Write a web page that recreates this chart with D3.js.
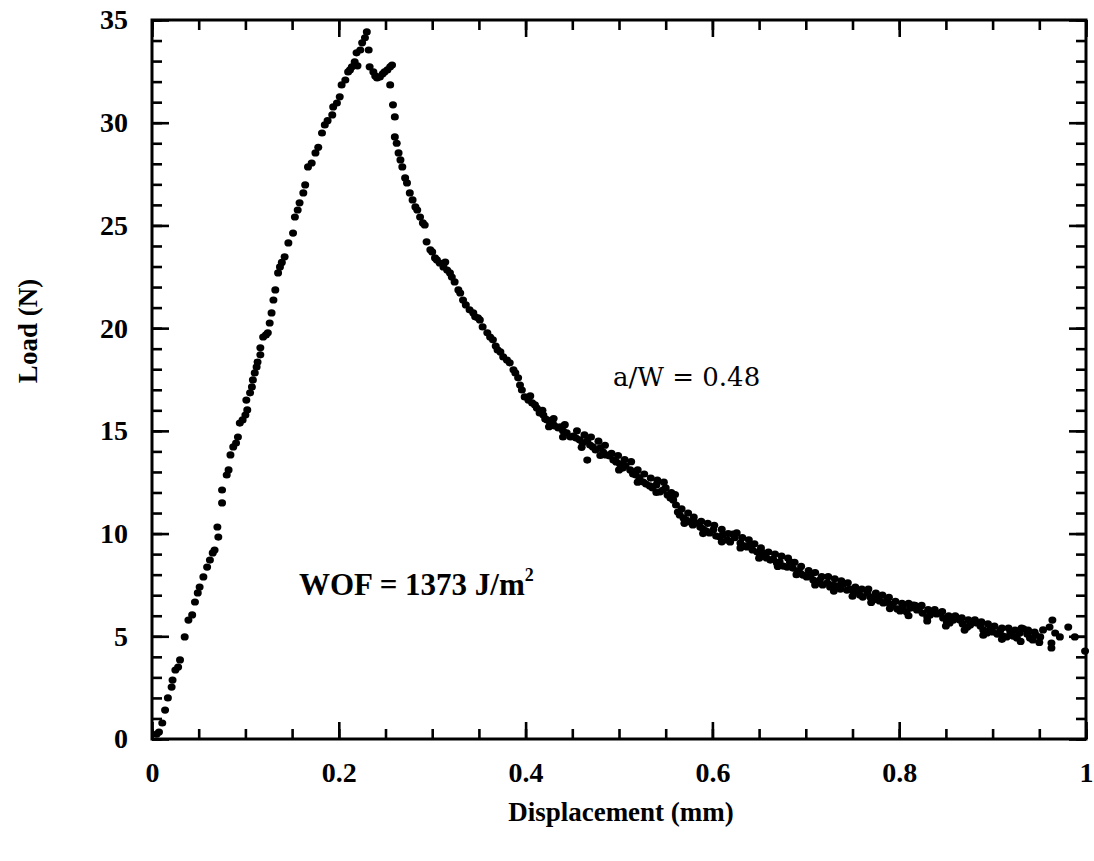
<!DOCTYPE html>
<html>
<head>
<meta charset="utf-8">
<script src="https://cdn.jsdelivr.net/npm/d3@7"></script>
<style>
html,body{margin:0;padding:0;background:#fff;}
svg{display:block;}
</style>
</head>
<body>
<svg id="chart" width="1094" height="861"></svg>
<script>
// ---- Data (displacement in mm, load in N) ----
const xTicks = [0, 0.2, 0.4, 0.6, 0.8, 1];
const xTickLabels = ["0", "0.2", "0.4", "0.6", "0.8", "1"];
const yTicks = [0, 5, 10, 15, 20, 25, 30, 35];
const yTickLabels = ["0", "5", "10", "15", "20", "25", "30", "35"];

const rising = [
[0.005,0.24],[0.0075,0.34],[0.011,0.78],[0.014,1.41],[0.017,2.0],[0.021,2.53],[0.022,2.87],[0.025,3.36],
[0.028,3.5],[0.030,3.85],[0.035,4.97],[0.039,5.79],[0.043,6.04],[0.046,6.67],[0.049,7.11],[0.051,7.40],
[0.055,7.89],[0.059,8.37],[0.062,8.71],[0.065,9.06],[0.067,9.20],[0.070,10.32],[0.071,9.83],[0.075,11.49],
[0.075,12.12],[0.080,12.85],[0.082,13.1],[0.084,13.83],[0.087,14.22],[0.090,14.41],[0.092,14.70],[0.094,15.38],
[0.097,15.53],[0.100,15.77],[0.102,16.02],[0.101,16.50],[0.105,16.85],[0.107,17.14],[0.108,17.48],[0.110,17.82],
[0.112,18.11],[0.113,18.35],[0.116,19.04],[0.116,18.7],[0.119,19.57],[0.122,19.67],[0.124,19.77],[0.126,20.25],
[0.128,20.74],[0.130,21.37],[0.132,21.86],[0.135,22.69],[0.137,22.98],[0.139,23.2],[0.142,23.47],[0.146,24.15],
[0.151,24.63],[0.153,25.41],[0.156,25.75],[0.158,26.10],[0.162,26.58],[0.164,26.97],[0.167,27.85],[0.171,28.04],
[0.175,28.53],[0.178,28.8],[0.182,29.50],[0.185,29.89],[0.188,30.1],[0.193,30.38],[0.194,30.77],[0.198,30.96],
[0.201,31.26],[0.203,31.84],[0.207,32.08],[0.210,32.47],[0.212,32.57],[0.214,32.72],[0.217,32.96],[0.219,33.40],
[0.220,32.77],[0.223,33.54],[0.225,33.89],[0.228,34.13],[0.230,34.42]
];

const peakDip = [
[0.232,33.54],[0.233,32.72],[0.237,32.47],[0.239,32.28],[0.241,32.18],[0.244,32.23],[0.247,32.38],[0.249,32.47],
[0.252,32.57],[0.255,32.72],[0.257,32.81],[0.255,31.84]
];

const softening = [
[0.258,30.87],[0.260,30.28],[0.260,29.31],[0.262,29.0],[0.264,28.53],[0.266,28.19],[0.268,27.85],[0.271,27.31],
[0.273,27.07],[0.276,26.58],[0.279,26.24],[0.282,25.90],[0.284,25.75],[0.287,25.41],[0.290,25.12],[0.292,25.02],
[0.294,24.20],[0.298,23.81],[0.300,23.71],[0.303,23.42],[0.305,23.32],[0.308,23.17],[0.312,22.98],[0.314,23.22],
[0.316,22.83],[0.319,22.69],[0.321,22.49],[0.324,22.25],[0.328,21.86],[0.330,21.71],[0.333,21.37],[0.336,21.13],
[0.340,20.89],[0.344,20.74],[0.346,20.55],[0.349,20.50],[0.351,20.40],[0.354,20.06],[0.359,19.77],[0.362,19.57],
[0.365,19.43],[0.368,19.13],[0.370,18.94],[0.373,18.84],[0.376,18.60],[0.380,18.45],[0.383,18.31],[0.387,17.97],
[0.389,17.82],[0.392,17.58],[0.394,17.23],[0.396,16.99],[0.399,16.65],[0.403,16.50],[0.407,16.36],[0.410,16.26],
[0.412,16.11],[0.415,15.87],[0.419,15.77],[0.421,15.58],[0.423,15.53],[0.426,15.43],[0.429,15.38],[0.431,15.24],
[0.435,15.14],[0.437,15.19],[0.440,15.0],[0.444,14.90],[0.448,14.70],[0.451,14.75],[0.454,14.65],[0.458,14.56],
[0.461,14.41],[0.466,14.51],[0.466,13.58],[0.469,14.31],[0.472,14.22],[0.475,14.07],[0.480,14.17],[0.483,13.97],
[0.486,13.83],[0.490,13.78],[0.494,13.58],[0.497,13.49],[0.501,13.39],[0.504,13.19],[0.507,13.29],[0.512,13.10],
[0.515,12.90],[0.518,12.85],[0.522,12.71],[0.526,12.51],[0.529,12.41],[0.533,12.32],[0.536,12.22],[0.540,12.37],
[0.544,12.03],[0.547,12.12],[0.550,12.22],[0.552,11.88],[0.555,11.73],[0.558,11.64],[0.561,11.39],[0.563,11.05],
[0.565,10.91],[0.569,10.76],[0.572,10.66],[0.576,10.56],[0.579,10.42],[0.582,10.52],[0.587,10.32],[0.590,10.22],
[0.593,10.13],[0.597,10.03],[0.601,10.18],[0.604,9.88],[0.608,9.83],[0.611,9.93],[0.616,9.69],[0.619,9.59],
[0.622,9.98],[0.626,10.03],[0.630,9.54],[0.634,9.40],[0.637,9.35],[0.640,9.45],[0.643,9.20],[0.648,9.10],
[0.651,8.86],[0.654,9.06],[0.658,8.81],[0.662,8.71],[0.665,8.76],[0.669,8.57],[0.672,8.62],[0.676,8.42],
[0.680,8.37],[0.683,8.62],[0.686,8.32],[0.691,8.18],[0.694,8.08],[0.697,7.98],[0.701,7.89],[0.705,7.94],
[0.708,7.74],[0.712,7.64],[0.715,7.74],[0.718,7.50],[0.723,7.60],[0.726,7.40],[0.729,7.50],[0.733,7.45],
[0.737,7.30],[0.740,7.55],[0.744,7.25],[0.747,7.30],[0.751,7.16],[0.755,7.25],[0.758,7.01],[0.761,6.91],
[0.766,7.11],[0.769,6.91],[0.772,6.77],[0.776,6.86],[0.779,6.72],[0.783,6.62],[0.787,6.77],[0.790,6.57],
[0.793,6.48],[0.798,6.33],[0.801,6.23],[0.804,6.38],[0.808,6.18],[0.812,6.38],[0.815,6.52],[0.819,6.28],
[0.822,6.43],[0.825,6.13],[0.830,5.94],[0.833,6.04],[0.836,6.18],[0.840,6.09],[0.844,6.13],[0.847,5.89],
[0.851,5.70],[0.854,5.65],[0.858,5.79],[0.862,5.89],[0.865,5.79],[0.868,5.60],[0.873,5.45],[0.876,5.55],
[0.879,5.70],[0.883,5.65],[0.887,5.50],[0.890,5.31],[0.894,5.16],[0.897,5.31],[0.900,5.21],[0.905,5.11],
[0.908,5.26],[0.911,5.01],[0.915,4.97],[0.919,5.21],[0.922,5.01],[0.926,4.92],[0.929,5.16],[0.933,5.36],
[0.937,5.11],[0.940,4.92],[0.943,4.82],[0.946,5.06],[0.951,4.97],[0.954,5.31],[0.961,5.45],[0.963,4.67],
[0.963,4.43],[0.964,5.79],[0.967,5.16],[0.972,4.97],[0.981,5.45],[0.988,4.97],[0.999,4.28]
];

const bandUpper = [
[0.405,16.7],[0.418,16.0],[0.430,15.6],[0.442,15.3],[0.455,15.0],[0.463,14.8],[0.470,14.7],[0.478,14.5],
[0.485,14.3],[0.492,13.9],[0.499,13.8],[0.506,13.6],[0.513,13.5],[0.520,13.1],[0.527,12.9],[0.534,12.7],
[0.541,12.6],[0.548,12.5],[0.556,12.0],[0.560,11.9],[0.567,11.2],[0.574,11.0],[0.580,10.8],[0.588,10.6],
[0.595,10.5],[0.602,10.4],[0.610,10.2],[0.617,10.0],[0.624,9.8],[0.632,9.8],[0.639,9.7],[0.645,9.5],
[0.652,9.3],[0.660,9.1],[0.667,9.0],[0.674,8.9],[0.681,8.8],[0.688,8.6],[0.695,8.4],[0.703,8.2],
[0.710,8.1],[0.717,7.9],[0.724,7.9],[0.731,7.8],[0.738,7.7],[0.745,7.6],[0.753,7.4],[0.760,7.3],
[0.767,7.3],[0.775,7.1],[0.782,7.0],[0.789,6.9],[0.796,6.7],[0.803,6.6],[0.810,6.6],[0.817,6.5],
[0.824,6.5],[0.831,6.3],[0.838,6.3],[0.846,6.2],[0.853,6.0],[0.860,6.0],[0.867,5.9],[0.874,5.8],
[0.881,5.8],[0.888,5.7],[0.895,5.6],[0.902,5.5],[0.910,5.4],[0.917,5.4],[0.924,5.3],[0.931,5.4],
[0.938,5.3],[0.945,5.2]
];

const bandLower = [
[0.425,15.2],[0.440,14.7],[0.460,14.2],[0.480,13.8],[0.500,13.1],[0.520,12.5],[0.540,12.0],[0.570,10.5],
[0.590,10.0],[0.610,9.6],[0.630,9.3],[0.650,8.8],[0.670,8.4],[0.690,8.0],[0.710,7.5],[0.730,7.2],
[0.750,6.95],[0.770,6.65],[0.790,6.35],[0.810,6.0],[0.830,5.75],[0.850,5.5],[0.870,5.3],[0.890,5.05],
[0.910,4.85],[0.930,4.75],[0.950,4.7]
];

// ---- Layout ----
const svg = d3.select("#chart");
const margin = {left: 152, top: 20, right: 1094 - 1086, bottom: 861 - 739};
const W = 1094, H = 861;
const x = d3.scaleLinear().domain([0, 1]).range([margin.left, W - margin.right]);
const y = d3.scaleLinear().domain([0, 35]).range([H - margin.bottom, margin.top]);

const fontFam = "'Liberation Serif', 'DejaVu Serif', serif";
const majorLen = 17, minorLen = 10;
const tickFont = 28;

const xMinor = d3.range(0, 1.0001, 0.05).map(v => +v.toFixed(2));
const yMinor = d3.range(0, 36, 1);

function styleTicks(g) {
  g.select(".domain").remove();
  g.selectAll(".tick line").attr("stroke", "#000").attr("stroke-width", 2.6);
}
function styleLabels(g) {
  g.selectAll("text").attr("font-family", fontFam).attr("font-weight", "bold")
    .attr("font-size", tickFont).attr("fill", "#000");
}

// bottom
svg.append("g").attr("transform", `translate(0,${y(0)})`)
  .call(d3.axisBottom(x).tickValues(xMinor).tickSize(-minorLen).tickFormat(""))
  .call(styleTicks);
svg.append("g").attr("transform", `translate(0,${y(0)})`)
  .call(d3.axisBottom(x).tickValues(xTicks).tickSize(-majorLen).tickPadding(23)
    .tickFormat((d, i) => xTickLabels[i]))
  .call(styleTicks).call(styleLabels);
// top
svg.append("g").attr("transform", `translate(0,${y(35)})`)
  .call(d3.axisTop(x).tickValues(xMinor).tickSize(-minorLen).tickFormat(""))
  .call(styleTicks);
svg.append("g").attr("transform", `translate(0,${y(35)})`)
  .call(d3.axisTop(x).tickValues(xTicks).tickSize(-majorLen).tickFormat(""))
  .call(styleTicks);
// left
svg.append("g").attr("transform", `translate(${x(0)},0)`)
  .call(d3.axisLeft(y).tickValues(yMinor).tickSize(-minorLen).tickFormat(""))
  .call(styleTicks);
svg.append("g").attr("transform", `translate(${x(0)},0)`)
  .call(d3.axisLeft(y).tickValues(yTicks).tickSize(-majorLen).tickPadding(24)
    .tickFormat((d, i) => yTickLabels[i]))
  .call(styleTicks).call(styleLabels);
// right
svg.append("g").attr("transform", `translate(${x(1)},0)`)
  .call(d3.axisRight(y).tickValues(yMinor).tickSize(-minorLen).tickFormat(""))
  .call(styleTicks);
svg.append("g").attr("transform", `translate(${x(1)},0)`)
  .call(d3.axisRight(y).tickValues(yTicks).tickSize(-majorLen).tickFormat(""))
  .call(styleTicks);

// frame
svg.append("rect")
  .attr("x", x(0)).attr("y", y(35))
  .attr("width", x(1) - x(0)).attr("height", y(0) - y(35))
  .attr("fill", "none").attr("stroke", "#000").attr("stroke-width", 3);

// data points
const allPts = [].concat(rising, peakDip, softening, bandUpper, bandLower);
svg.append("g").selectAll("ellipse").data(allPts).join("ellipse")
  .attr("cx", d => x(d[0])).attr("cy", d => y(d[1]))
  .attr("rx", 4).attr("ry", 3.6).attr("fill", "#000");

// axis titles
svg.append("text").attr("x", 621).attr("y", 821)
  .attr("text-anchor", "middle").attr("font-family", fontFam).attr("font-weight", "bold")
  .attr("font-size", 27).text("Displacement (mm)");
svg.append("text").attr("transform", "translate(37,331) rotate(-90)")
  .attr("text-anchor", "middle").attr("font-family", fontFam).attr("font-weight", "bold")
  .attr("font-size", 27).text("Load (N)");

// annotations
svg.append("text").attr("x", 613).attr("y", 386)
  .attr("font-family", "'DejaVu Serif', serif").attr("font-size", 26).text("a/W = 0.48");
const wof = svg.append("text").attr("x", 299).attr("y", 595)
  .attr("font-family", fontFam).attr("font-weight", "bold").attr("font-size", 31);
wof.append("tspan").text("WOF = 1373 J/m");
wof.append("tspan").attr("font-size", 18).attr("dy", -14).text("2");
</script>
</body>
</html>
